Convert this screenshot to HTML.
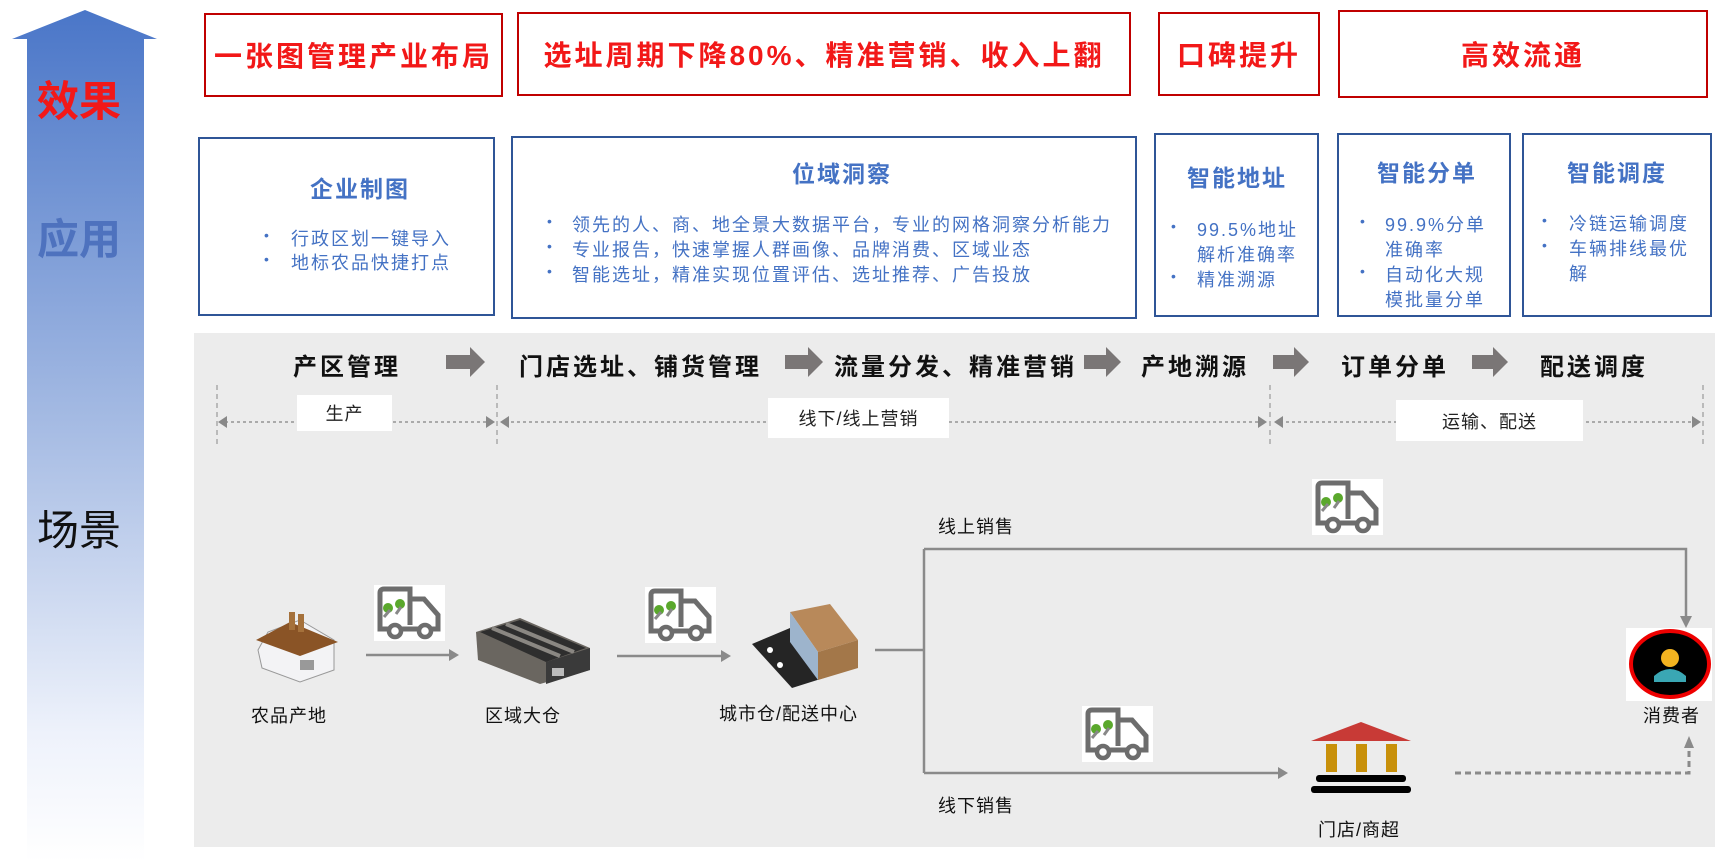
<!DOCTYPE html>
<html><head><meta charset="utf-8"><style>
body{margin:0;width:1731px;height:862px;background:#fff;position:relative;overflow:hidden;font-family:"Liberation Sans","Noto Sans CJK SC",sans-serif}
.a{position:absolute;white-space:nowrap}
.rb{position:absolute;border:2.5px solid #c00000;box-sizing:border-box;display:flex;align-items:center;justify-content:center;color:#f21818;font-size:28px;letter-spacing:3px;font-weight:bold}
.bb{position:absolute;border:2.5px solid #2f5597;box-sizing:border-box;background:#fff}
.t{position:absolute;color:#4472c4;font-size:23px;font-weight:bold;letter-spacing:2px;white-space:nowrap;transform:translateX(-50%)}
.l{position:absolute;color:#4472c4;font-size:18px;letter-spacing:2px;white-space:nowrap}
.d{position:absolute;color:#4472c4;font-size:14px}
.p{position:absolute;font-size:24px;font-weight:bold;letter-spacing:3px;color:#111;white-space:nowrap;top:347px}
.lb{position:absolute;font-size:18px;color:#111;white-space:nowrap;letter-spacing:1px}
.wb{position:absolute;background:#fff;display:flex;align-items:center;justify-content:center;font-size:18px;color:#222;letter-spacing:1px}
</style></head><body>
<svg class="a" style="left:0;top:0" width="1731" height="862">
<defs>
<linearGradient id="g" x1="0" y1="0" x2="0" y2="1"><stop offset="0" stop-color="#4a76c8"/><stop offset="0.5" stop-color="#a8bde4"/><stop offset="0.85" stop-color="#eef2fb"/><stop offset="1" stop-color="#fff"/></linearGradient>
<g id="truck"><rect x="0" y="0" width="71" height="56" fill="#fff"/><path d="M6 36 V8 Q6 4 10 4 H36 V40 M36 14 H50 L64 30 V44 H58 M6 36 V44 H14 M28 44 H44" fill="none" stroke="#6d6d6d" stroke-width="5"/><circle cx="21" cy="46" r="6" fill="#fff" stroke="#6d6d6d" stroke-width="4.5"/><circle cx="51" cy="46" r="6" fill="#fff" stroke="#6d6d6d" stroke-width="4.5"/><circle cx="14" cy="23" r="5" fill="#5aa82c"/><circle cx="26" cy="19" r="5" fill="#5aa82c"/><path d="M10 32 L16 25 M22 29 L27 22" stroke="#888" stroke-width="3"/></g>
</defs>
<rect x="194" y="333" width="1521" height="514" fill="#ececec"/>
<path d="M85 10 L157 39 H144 V862 H27 V39 H12 Z" fill="url(#g)"/>
<g fill="#7a7676">
<path d="M446 355 H470 V347 L485 362 L470 377 V369 H446 Z"/>
<path d="M785 355 H808 V347 L823 362 L808 377 V369 H785 Z"/>
<path d="M1084 355 H1106 V347 L1121 362 L1106 377 V369 H1084 Z"/>
<path d="M1273 355 H1294 V347 L1309 362 L1294 377 V369 H1273 Z"/>
<path d="M1472 355 H1493 V347 L1508 362 L1493 377 V369 H1472 Z"/>
</g>
<g stroke="#999" stroke-width="1.2" stroke-dasharray="5,4" fill="none">
<path d="M217 385 V448 M497 385 V448 M1270 385 V448 M1703 385 V448"/>
<path d="M225 422 H488 M505 422 H1260 M1280 422 H1694" stroke="#aaa" stroke-dasharray="3,3" stroke-width="2"/>
</g>
<g fill="#888">
<path d="M218 422 L227 416 V428 Z"/><path d="M495 422 L486 416 V428 Z"/>
<path d="M500 422 L509 416 V428 Z"/><path d="M1267 422 L1258 416 V428 Z"/>
<path d="M1274 422 L1283 416 V428 Z"/><path d="M1701 422 L1692 416 V428 Z"/>
</g>
<g stroke="#8a8a8a" stroke-width="2.5" fill="none">
<path d="M366 655 H452"/><path d="M617 656 H724"/>
<path d="M875 650 H924 M924 549 V773 M924 549 H1686 V620 M924 773 H1280"/>
</g>
<g fill="#8a8a8a"><path d="M459 655 L449 649 V661 Z"/><path d="M731 656 L721 650 V662 Z"/><path d="M1686 628 L1680 616 H1692 Z"/><path d="M1288 773 L1278 767 V779 Z"/><path d="M1689 736 L1684 748 H1694 Z"/></g>
<path d="M1455 773 H1689 V748" stroke="#8a8a8a" stroke-width="3" stroke-dasharray="6,4" fill="none"/>
<use href="#truck" x="374" y="585"/><use href="#truck" x="645" y="587"/><use href="#truck" x="1312" y="479"/><use href="#truck" x="1082" y="706"/>
<g><path d="M258 650 L268 632 L300 620 L334 640 V670 L300 682 L262 668 Z" fill="#f3f3f5" stroke="#999"/><path d="M256 640 L290 622 L338 642 L300 656 Z" fill="#8a5426"/><rect x="289" y="612" width="6" height="18" fill="#a5713b"/><rect x="298" y="614" width="6" height="18" fill="#a5713b"/><rect x="300" y="660" width="14" height="10" fill="#999"/></g>
<g><path d="M476 632 L520 618 L590 648 V670 L540 684 L478 660 Z" fill="#6a6660"/><path d="M480 632 L520 620 L586 648 L546 662 Z" fill="#2e2e2e"/><path d="M492 628 L560 656 M506 624 L574 652" stroke="#8a8782" stroke-width="4"/><path d="M546 662 L590 648 V670 L546 684 Z" fill="#3a3a3a"/><rect x="552" y="668" width="12" height="8" fill="#bbb"/></g>
<g><path d="M752 644 L790 628 L830 676 L792 688 Z" fill="#252525"/><path d="M790 612 L830 604 L858 640 L818 652 Z" fill="#b8895a"/><path d="M790 612 L818 652 V680 L790 642 Z" fill="#9db4cc"/><path d="M818 652 L858 640 V668 L818 680 Z" fill="#a37749"/><circle cx="770" cy="650" r="3" fill="#fff"/><circle cx="780" cy="665" r="3" fill="#fff"/></g>
<g><path d="M1311 741 L1361 722 L1411 741 Z" fill="#c83a36"/><rect x="1326" y="744" width="11" height="28" fill="#c8900a"/><rect x="1356" y="744" width="11" height="28" fill="#c8900a"/><rect x="1386" y="744" width="11" height="28" fill="#c8900a"/><rect x="1316" y="775" width="90" height="7" rx="3" fill="#000"/><rect x="1311" y="786" width="100" height="7" rx="3" fill="#000"/></g>
<rect x="1626" y="628" width="86" height="73" fill="#fff"/>
<ellipse cx="1670" cy="664" rx="39" ry="33" fill="#000" stroke="#e00" stroke-width="4"/>
<path d="M1654 676 Q1670 662 1686 676 V682 H1654 Z" fill="#3aa7b4"/><circle cx="1670" cy="658" r="9" fill="#f3b320"/>
</svg>

<div class="a" style="left:37px;top:68px;font-size:42px;color:#f21818;font-weight:bold">效果</div>
<div class="a" style="left:37px;top:206px;font-size:42px;color:#4e72be;font-weight:bold">应用</div>
<div class="a" style="left:37px;top:497px;font-size:42px;color:#111">场景</div>

<div class="rb" style="left:204px;top:13px;width:299px;height:84px">一张图管理产业布局</div>
<div class="rb" style="left:517px;top:12px;width:614px;height:84px">选址周期下降80%、精准营销、收入上翻</div>
<div class="rb" style="left:1158px;top:12px;width:162px;height:84px">口碑提升</div>
<div class="rb" style="left:1338px;top:10px;width:370px;height:88px">高效流通</div>

<div class="bb" style="left:198px;top:137px;width:297px;height:179px"></div>
<div class="bb" style="left:511px;top:136px;width:626px;height:183px"></div>
<div class="bb" style="left:1154px;top:133px;width:165px;height:184px"></div>
<div class="bb" style="left:1337px;top:133px;width:174px;height:184px"></div>
<div class="bb" style="left:1522px;top:133px;width:190px;height:184px"></div>

<div class="t" style="left:360px;top:170px">企业制图</div>
<div class="d" style="left:264px;top:227px">•</div><div class="l" style="left:291px;top:225px">行政区划一键导入</div>
<div class="d" style="left:264px;top:251px">•</div><div class="l" style="left:291px;top:249px">地标农品快捷打点</div>

<div class="t" style="left:842px;top:155px">位域洞察</div>
<div class="d" style="left:547px;top:213px">•</div><div class="l" style="left:572px;top:211px">领先的人、商、地全景大数据平台，专业的网格洞察分析能力</div>
<div class="d" style="left:547px;top:238px">•</div><div class="l" style="left:572px;top:236px">专业报告，快速掌握人群画像、品牌消费、区域业态</div>
<div class="d" style="left:547px;top:263px">•</div><div class="l" style="left:572px;top:261px">智能选址，精准实现位置评估、选址推荐、广告投放</div>

<div class="t" style="left:1237px;top:159px">智能地址</div>
<div class="d" style="left:1171px;top:218px">•</div><div class="l" style="left:1197px;top:216px">99.5%地址</div>
<div class="l" style="left:1197px;top:241px">解析准确率</div>
<div class="d" style="left:1171px;top:268px">•</div><div class="l" style="left:1197px;top:266px">精准溯源</div>

<div class="t" style="left:1427px;top:154px">智能分单</div>
<div class="d" style="left:1360px;top:213px">•</div><div class="l" style="left:1385px;top:211px">99.9%分单</div>
<div class="l" style="left:1385px;top:236px">准确率</div>
<div class="d" style="left:1360px;top:263px">•</div><div class="l" style="left:1385px;top:261px">自动化大规</div>
<div class="l" style="left:1385px;top:286px">模批量分单</div>

<div class="t" style="left:1617px;top:154px">智能调度</div>
<div class="d" style="left:1542px;top:212px">•</div><div class="l" style="left:1569px;top:210px">冷链运输调度</div>
<div class="d" style="left:1542px;top:237px">•</div><div class="l" style="left:1569px;top:235px">车辆排线最优</div>
<div class="l" style="left:1569px;top:260px">解</div>

<div class="p" style="left:293px">产区管理</div>
<div class="p" style="left:519px">门店选址、铺货管理</div>
<div class="p" style="left:834px">流量分发、精准营销</div>
<div class="p" style="left:1141px">产地溯源</div>
<div class="p" style="left:1341px">订单分单</div>
<div class="p" style="left:1540px">配送调度</div>

<div class="wb" style="left:297px;top:395px;width:95px;height:36px">生产</div>
<div class="wb" style="left:768px;top:398px;width:181px;height:40px">线下/线上营销</div>
<div class="wb" style="left:1396px;top:400px;width:187px;height:41px">运输、配送</div>

<div class="lb" style="left:251px;top:702px">农品产地</div>
<div class="lb" style="left:485px;top:702px">区域大仓</div>
<div class="lb" style="left:719px;top:700px">城市仓/配送中心</div>
<div class="lb" style="left:938px;top:513px">线上销售</div>
<div class="lb" style="left:938px;top:792px">线下销售</div>
<div class="lb" style="left:1318px;top:816px">门店/商超</div>
<div class="lb" style="left:1643px;top:702px">消费者</div>
</body></html>
